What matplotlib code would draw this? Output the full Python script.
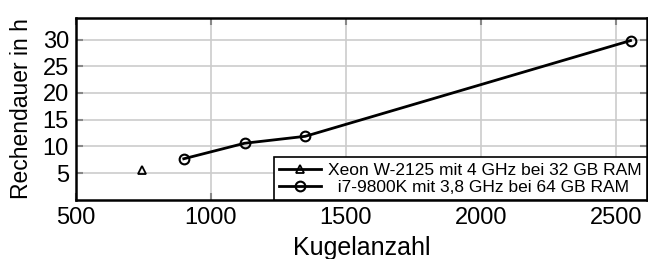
import matplotlib.pyplot as plt

plt.rcParams["font.family"] = ["Liberation Sans", "DejaVu Sans"]

# Daten
xeon_kugeln = [745]
xeon_dauer = [5.6]
i7_kugeln = [900, 1125, 1350, 2555]
i7_dauer = [7.7, 10.6, 11.9, 29.8]

fig = plt.figure(figsize=(6.48, 2.59), dpi=100)
ax = fig.add_axes([0.117, 0.228, 0.881, 0.702])

ax.plot(xeon_kugeln, xeon_dauer, color="black", linewidth=2, marker="^",
        markersize=6, markerfacecolor="none", markeredgewidth=1.3,
        label="Xeon W-2125 mit 4 GHz bei 32 GB RAM")
ax.plot(i7_kugeln, i7_dauer, color="black", linewidth=2, marker="o",
        markersize=7, markerfacecolor="none", markeredgewidth=1.5,
        label="  i7-9800K mit 3,8 GHz bei 64 GB RAM")

ax.set_xlim(500, 2615)
ax.set_ylim(0, 34)
ax.set_xticks([500, 1000, 1500, 2000, 2500])
ax.set_yticks([5, 10, 15, 20, 25, 30])
ax.grid(True, color="#cccccc", linewidth=1.2)
ax.tick_params(direction="in", top=True, right=True, length=5, width=1.5,
               colors="#888888", labelcolor="black", labelsize=17, pad=5)
for s in ax.spines.values():
    s.set_linewidth(1.8)

ax.set_xlabel("Kugelanzahl", fontsize=18, labelpad=5)
ax.set_ylabel("Rechendauer in h", fontsize=16.5, labelpad=7)

leg = ax.legend(loc="lower right", borderaxespad=0, fontsize=12.5,
                fancybox=False, framealpha=1, edgecolor="black",
                handlelength=2.4, handletextpad=0.4, labelspacing=0.1,
                borderpad=0.3)
leg.get_frame().set_linewidth(1.2)

fig.savefig("out.png", dpi=100)
